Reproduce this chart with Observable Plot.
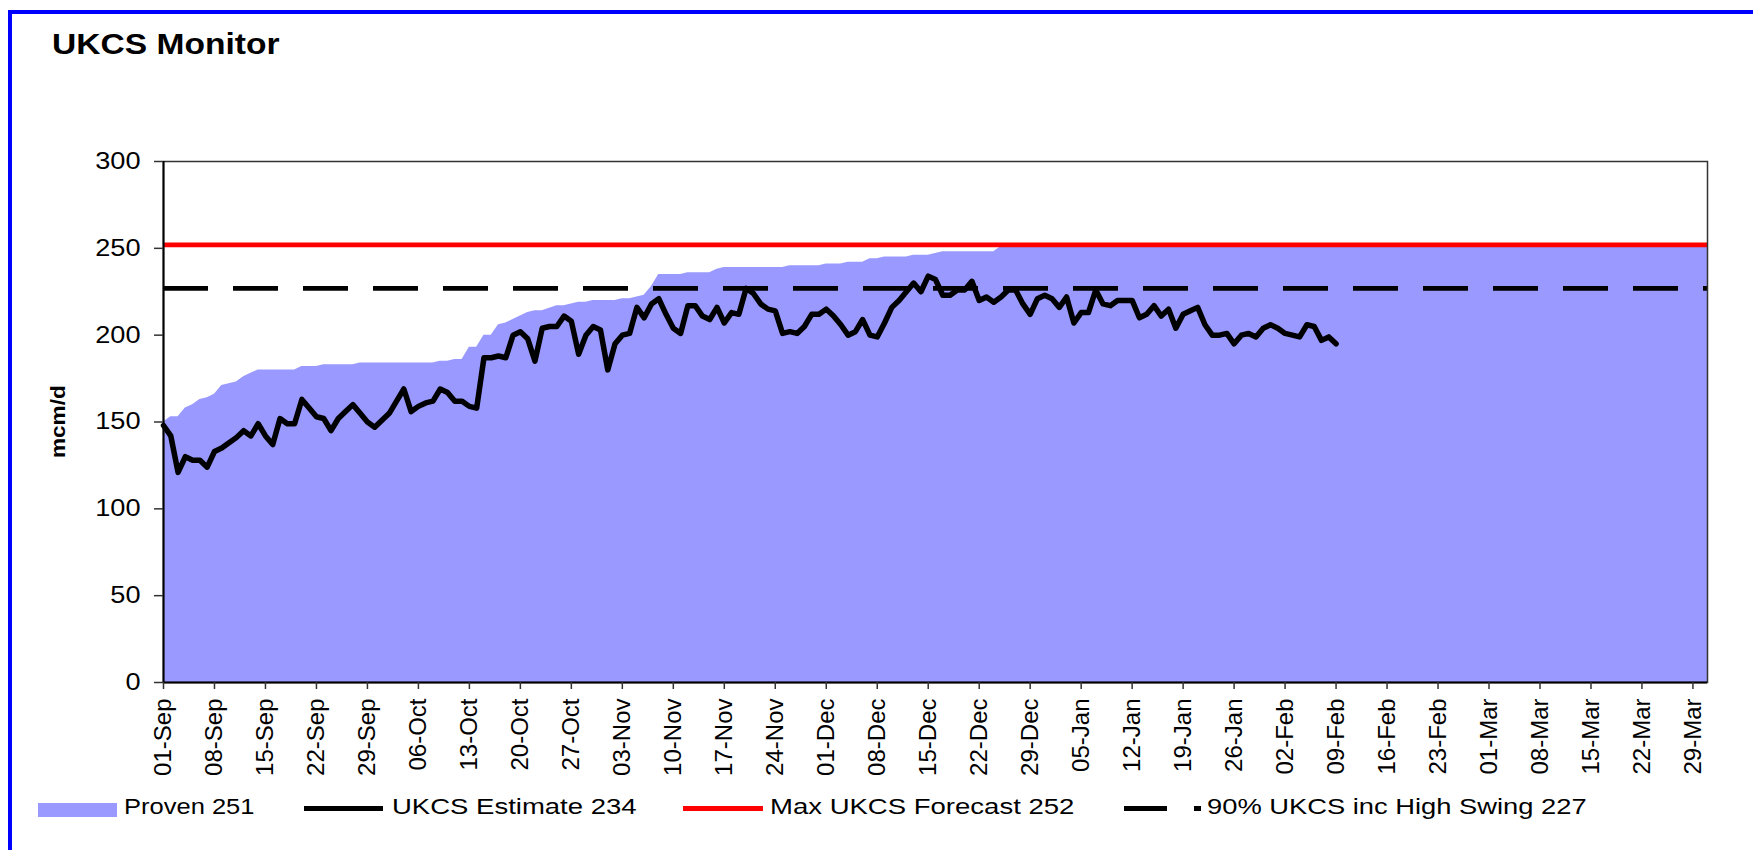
<!DOCTYPE html>
<html><head><meta charset="utf-8">
<script src="https://cdn.jsdelivr.net/npm/d3@7"></script>
<script src="https://cdn.jsdelivr.net/npm/@observablehq/plot@0.6"></script>
<style>
html,body{margin:0;padding:0;background:#fff;overflow:hidden;}
#page{position:relative;width:1753px;height:850px;overflow:hidden;font-family:"Liberation Sans",Arial,sans-serif;color:#000;background:#fff;}
#frame{position:absolute;left:8px;top:10px;width:1800px;height:900px;border:4.5px solid #0000ff;box-sizing:border-box;}
.t{position:absolute;left:0;top:0;white-space:nowrap;line-height:1;transform-origin:0 0;}
.g{position:absolute;}
#chart{position:absolute;left:0;top:100px;}
</style></head><body>
<div id="page">
  <div id="frame"></div>
  <div id="chart"></div>
</div>
<script>
// ---------------- DATA ----------------
const startDate = "2007-09-01";
const endDate = "2008-03-31";
const titleText = "UKCS Monitor";
const yLabelText = "mcm/d";
// Proven (daily, from 01-Sep)
const provenValues = [
  150,153,153,158,160,163,164,
  166,171,172,173,176,178,180,
  180,180,180,180,180,182,182,
  182,183,183,183,183,183,184,
  184,184,184,184,184,184,184,
  184,184,184,185,185,186,186,
  193,193,200,200,206,207,209,
  211,213,214,214,215.5,217,217,
  218,219,219,220,220,220,220,
  221,221,222,223,228,235,235,
  235,235,236,236,236,236,238,
  239,239,239,239,239,239,239,
  239,239,240,240,240,240,240,
  241,241,241,242,242,242,244,
  244,245,245,245,245,246,246,
  246,247,248,248,248,248,248,
  248,248,248,251,251,251,251,
  251,251,251,251,251,251,251,
  251,251,251,251,251,251,251,
  251,251,251,251,251,251,251,
  251,251,251,251,251,251,251,
  251,251,251,251,251,251,251,
  251,251,251,251,251,251,251,
  251,251,251,251,251,251,251,
  251,251,251,251,251,251,251,
  251,251,251,251,251,251,251,
  251,251,251,251,251,251,251,
  251,251,251,251,251,251,251,
  251,251,251,251,251,251,251,
  251,251,251,251,251,251,251,
  251,251,251
];
// UKCS Estimate (daily, from 01-Sep to 09-Feb)
const estimateValues = [
  148,142,121,130,128,128,124,
  133,135,138,141,145,142,149,
  142,137,152,149,149,163,158,
  153,152,145,152,156,160,155,
  150,147,151,155,162,169,156,
  159,161,162,169,167,162,162,
  159,158,187,187,188,187,200,
  202,198,185,204,205,205,211,
  208,189,200,205,203,180,195,
  200,201,216,210,218,221,212,
  204,201,217,217,211,209,216,
  207,213,212,227,224,218,215,
  214,201,202,201,205,212,212,
  215,211,206,200,202,209,200,
  199,207,216,220,225,230,225,
  234,232,223,223,226,226,231,
  220,222,219,222,226,226,218,
  212,221,223,221,216,222,207,
  213,213,226,218,217,220,220,
  220,210,212,217,211,215,204,
  212,214,216,206,200,200,201,
  195,200,201,199,204,206,204,
  201,200,199,206,205,197,199,
  195
];
const maxForecast = 252;
const highSwing = 227;
const yTicks = [0, 50, 100, 150, 200, 250, 300];
const xTickLabels = ["01-Sep","08-Sep","15-Sep","22-Sep","29-Sep","06-Oct","13-Oct","20-Oct","27-Oct",
  "03-Nov","10-Nov","17-Nov","24-Nov","01-Dec","08-Dec","15-Dec","22-Dec","29-Dec","05-Jan","12-Jan",
  "19-Jan","26-Jan","02-Feb","09-Feb","16-Feb","23-Feb","01-Mar","08-Mar","15-Mar","22-Mar","29-Mar"];
const legendLabels = ["Proven 251", "UKCS Estimate 234", "Max UKCS Forecast 252", "90% UKCS inc High Swing 227"];
const colors = {proven: "#9999ff", estimate: "#000000", max: "#ff0000", swing: "#000000"};

// ---------------- CHART ----------------
const start = new Date(startDate + "T00:00:00Z");
const end = new Date(endDate + "T00:00:00Z");
const provenData = provenValues.map((v, i) => ({date: d3.utcDay.offset(start, i), value: v}));
const estimateData = estimateValues.map((v, i) => ({date: d3.utcDay.offset(start, i), value: v}));
const xTicks = xTickLabels.map((_, i) => d3.utcDay.offset(start, 7 * i));
const labelByTime = new Map(xTicks.map((d, i) => [+d, xTickLabels[i]]));

const FONT = "'Liberation Sans', Arial, sans-serif";
const plot = Plot.plot({
  width: 1753, height: 690,
  marginTop: 61, marginBottom: 108, marginLeft: 163, marginRight: 46,
  style: {fontFamily: FONT, background: "transparent", color: "#000", overflow: "visible"},
  x: {type: "utc", domain: [start, end]},
  y: {domain: [0, 300]},
  marks: [
    Plot.areaY(provenData, {x: "date", y: "value", fill: colors.proven}),
    Plot.lineY(estimateData, {x: "date", y: "value", stroke: colors.estimate, strokeWidth: 5.5, strokeLinejoin: "round", strokeLinecap: "round"}),
    Plot.ruleY([maxForecast], {stroke: colors.max, strokeWidth: 4.8}),
    Plot.ruleY([highSwing], {stroke: colors.swing, strokeWidth: 4.8, strokeDasharray: "45,25"}),
    Plot.frame({stroke: "#333", strokeWidth: 1.5}),
    Plot.ruleX([start], {stroke: "#000", strokeWidth: 2}),
    Plot.ruleY([0], {stroke: "#000", strokeWidth: 2}),
    Plot.axisY({ticks: yTicks, tickSize: 9, tickPadding: 14, fontSize: 23, tickFormat: d => String(d), label: null, stroke: "#333", strokeWidth: 1.5, fill: "#000"}),
    Plot.axisX({ticks: xTicks, tickFormat: d => labelByTime.get(+d), tickRotate: -90, tickSize: 7, tickPadding: 9, fontSize: 24, label: null, stroke: "#333", strokeWidth: 1.5, fill: "#000"})
  ]
});
document.getElementById("chart").appendChild(plot);

// widen y tick labels like the original
plot.querySelectorAll('g[aria-label="y-axis tick label"] text').forEach(t => {
  const w = t.getComputedTextLength();
  t.setAttribute("textLength", (w * 1.18).toFixed(1));
  t.setAttribute("lengthAdjust", "spacingAndGlyphs");
});

// ---------------- TEXT / LEGEND ----------------
const page = document.getElementById("page");
function placeText(text, {left, baseline, size, weight = "normal", width}) {
  const el = document.createElement("div");
  el.className = "t";
  el.textContent = text;
  el.style.fontSize = size + "px";
  el.style.fontWeight = weight;
  page.appendChild(el);
  const nat = el.offsetWidth;
  const top = baseline - size * 0.8465;
  el.style.transform = `translate(${left}px, ${top}px) scaleX(${width / nat})`;
  return el;
}
function box(left, top, w, h, color) {
  const el = document.createElement("div");
  el.className = "g";
  Object.assign(el.style, {left: left + "px", top: top + "px", width: w + "px", height: h + "px", background: color});
  page.appendChild(el);
}
placeText(titleText, {left: 52, baseline: 55, size: 29, weight: "bold", width: 228});

// rotated y label
{
  const size = 21;
  const el = document.createElement("div");
  el.className = "t";
  el.textContent = yLabelText;
  el.style.fontSize = size + "px";
  el.style.fontWeight = "bold";
  page.appendChild(el);
  const nat = el.offsetWidth;
  const X = 65 - size * 0.8465, Y = 458;
  el.style.transform = `translate(${X}px, ${Y}px) rotate(-90deg) scaleX(${73 / nat})`;
}

// legend
box(38, 803, 79, 14, colors.proven);
placeText(legendLabels[0], {left: 124, baseline: 815, size: 22, width: 131});
box(304, 806, 79, 5, colors.estimate);
placeText(legendLabels[1], {left: 392, baseline: 815, size: 22, width: 245});
box(683, 806, 80, 5, colors.max);
placeText(legendLabels[2], {left: 770, baseline: 815, size: 22, width: 304});
box(1124, 806, 43, 5, colors.swing);
box(1194, 806, 7, 5, colors.swing);
placeText(legendLabels[3], {left: 1207, baseline: 815, size: 22, width: 380});
</script>
</body></html>
